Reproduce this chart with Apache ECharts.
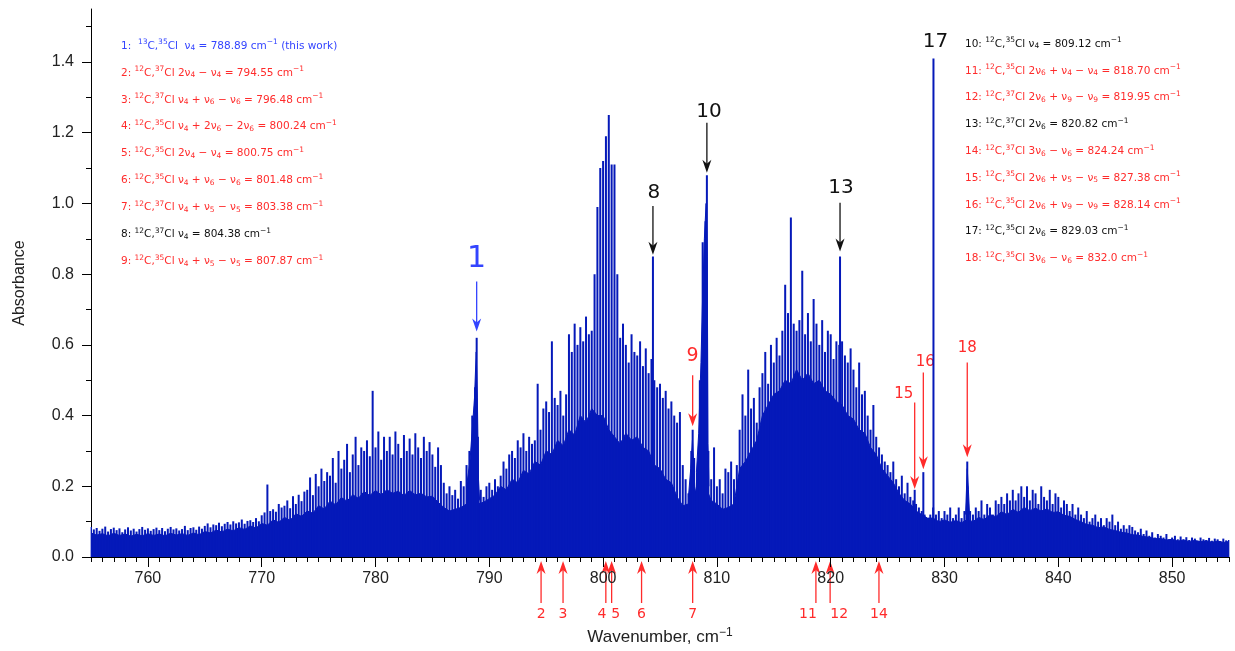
<!DOCTYPE html>
<html>
<head>
<meta charset="utf-8">
<script src="https://cdn.jsdelivr.net/npm/echarts@6/dist/echarts.min.js"></script>
<style>
html, body { margin: 0; padding: 0; background: #fff; }
#chart { width: 1235px; height: 651px; }
</style>
</head>
<body>
<div id="chart"></div>
<script>
// resolved line tops, every 0.25 cm-1 from 755 to 855
var stickStart = 755, stickStep = 0.25;
var lineTops = [
  .085,.078,.082,.074, .080,.086,.072,.079, .083,.076,.081,.070, .078,.084,.075,.080, .072,.079,.085,.077, // 755-759
  .081,.074,.079,.083, .076,.082,.073,.080, .085,.078,.081,.075, .079,.088,.076,.082, .084,.077,.086,.080, // 760-764
  .088,.095,.084,.092, .090,.097,.087,.094, .099,.092,.101,.095, .098,.106,.094,.102, .104,.099,.110,.101, // 765-769
  .118,.126,.205,.130, .135,.128,.150,.140, .145,.160,.138,.172, .150,.176,.158,.185, .190,.225,.175,.235, // 770-774
  .200,.250,.215,.240, .230,.280,.210,.300, .250,.275,.320,.240, .290,.340,.260,.310, .300,.330,.285,.470, // 775-779
  .310,.355,.275,.340, .300,.340,.290,.355, .320,.280,.345,.300, .335,.290,.350,.310, .280,.340,.300,.325, // 780-784
  .290,.255,.310,.260, .210,.180,.200,.175, .190,.165,.215,.200, .260,.300,.400,.480, .340,.190,.170,.200, // 785-789
  .210,.190,.220,.200, .230,.270,.250,.290, .300,.280,.330,.310, .350,.300,.340,.320, .330,.490,.360,.420, // 790-794
  .440,.410,.610,.450, .430,.470,.400,.460, .630,.580,.660,.600, .650,.610,.680,.630, .640,.800,.990,1.100, // 795-799
  1.120,1.190,1.250,1.110, 1.110,.800,.620,.660, .600,.550,.630,.580, .570,.610,.540,.590, .520,.560,.500,.480, // 800-804
  .490,.450,.470,.420, .440,.400,.380,.410, .260,.220,.180,.300, .280,.240,.500,.890, .950,.300,.220,.310, // 805-809
  .200,.220,.180,.250, .240,.270,.220,.260, .360,.460,.400,.530, .420,.450,.380,.480, .520,.580,.490,.600, // 810-814
  .550,.620,.570,.640, .770,.690,.960,.660, .640,.670,.810,.630, .690,.610,.730,.660, .600,.670,.580,.640, // 815-819
  .630,.560,.610,.600, .610,.570,.550,.590, .530,.480,.550,.460, .470,.400,.360,.430, .340,.310,.290,.270, // 820-824
  .260,.240,.270,.220, .200,.230,.180,.210, .170,.160,.150,.140, .130,.120,.110,.120, .140,.120,.130,.110, // 825-829
  .130,.120,.140,.110, .120,.140,.110,.130, .200,.130,.120,.140, .130,.160,.120,.150, .140,.120,.160,.150, // 830-834
  .170,.150,.180,.160, .190,.160,.180,.200, .170,.200,.160,.190, .180,.150,.200,.170, .160,.190,.150,.180, // 835-839
  .170,.140,.160,.150, .130,.150,.120,.140, .120,.110,.130,.100, .110,.120,.100,.110, .090,.110,.100,.120, // 840-844
  .090,.100,.080,.090, .080,.090,.085,.075, .070,.080,.065,.075, .060,.070,.055,.065, .060,.055,.065,.050, // 845-849
  .055,.060,.050,.058, .050,.056,.048,.055, .052,.046,.055,.050, .048,.054,.046,.052, .050,.045,.052,.047, // 850-854
  .048
];

// dense, unresolved part of the spectrum, every 0.5 cm-1 from 755 to 855
var floorStart = 755, floorStep = 0.5;
var floorLevel = [
  .068,.062,.066,.060,.067,.061,.065,.059,.064,.060,.066,.061,.065,.060,.067,.062,.066,.061,.068,.063, // 755-764.5
  .072,.068,.076,.071,.079,.074,.083,.078,.088,.082, // 765-769.5
  .095,.090,.105,.098,.112,.104,.122,.115,.130,.124, // 770-774.5
  .145,.136,.158,.148,.168,.158,.176,.166,.185,.174, // 775-779.5
  .188,.176,.190,.180,.186,.174,.188,.176,.180,.170, // 780-784.5
  .172,.155,.140,.130,.135,.140,.150,.160,.150,.155, // 785-789.5
  .165,.175,.200,.190,.220,.210,.245,.235,.270,.260, // 790-794.5
  .300,.290,.330,.315,.360,.345,.400,.380,.420,.400, // 795-799.5
  .400,.360,.340,.320,.350,.330,.340,.310,.300,.260, // 800-804.5
  .250,.220,.210,.170,.145,.150,.180,.200,.200,.160, // 805-809.5
  .150,.135,.140,.150,.250,.270,.300,.330,.400,.430, // 810-814.5
  .460,.470,.500,.490,.530,.500,.520,.490,.500,.470, // 815-819.5
  .460,.440,.430,.400,.390,.360,.350,.310,.290,.250, // 820-824.5
  .230,.210,.180,.160,.150,.130,.120,.110,.110,.100, // 825-829.5
  .105,.098,.103,.097,.106,.100,.112,.106,.120,.114, // 830-834.5
  .128,.120,.135,.126,.140,.131,.138,.130,.136,.126, // 835-839.5
  .128,.118,.115,.106,.100,.092,.090,.083,.085,.078, // 840-844.5
  .075,.070,.068,.063,.062,.058,.056,.052,.052,.048, // 845-849.5
  .050,.045,.048,.044,.047,.043,.046,.042,.045,.041, // 850-854.5
  .044
];

// filled Q-branch contours [wavenumber, absorbance]
var qBranch1 = [[788.0, .20], [788.3, .27], [788.5, .36], [788.7, .45], [788.85, .58], [788.95, .45], [789.05, .22], [789.15, .16]];
var qBranch9 = [[807.5, .17], [807.7, .25], [807.85, .33], [807.95, .27], [808.05, .20], [808.15, .18]];
var qBranch10 = [[808.2, .24], [808.4, .35], [808.6, .55], [808.75, .74], [808.9, .90], [809.05, 1.0], [809.15, .85], [809.22, .32], [809.3, .20]];
var qBranch18 = [[831.85, .12], [832.0, .25], [832.1, .19], [832.2, .12]];

// sharp Q-branch peaks
var bandCenters = [788.89, 804.38, 807.87, 809.12, 820.82, 827.38, 828.14, 829.03, 832.0];
var bandHeights = [0.62, 0.85, 0.36, 1.08, 0.85, 0.19, 0.24, 1.41, 0.27];

// axis ticks
var xLabels = [760, 770, 780, 790, 800, 810, 820, 830, 840, 850];
var yLabels = [0, 0.2, 0.4, 0.6, 0.8, 1.0, 1.2, 1.4];
var yMinorTicks = [0.1, 0.3, 0.5, 0.7, 0.9, 1.1, 1.3, 1.5];

// assignments above the spectrum
var topLabels = ['1', '8', '9', '10', '13', '17', '15', '16', '18'];
var topWavenumbers = [788.89, 804.38, 807.87, 809.12, 820.82, 829.03, 827.38, 828.14, 832.0];
// assignments below the axis
var bottomLabels = ['2', '3', '4', '5', '6', '7', '11', '12', '14'];
var bottomWavenumbers = [794.55, 796.48, 800.24, 800.75, 803.38, 807.87, 818.70, 819.95, 824.24];

var legendLeft = [
  '1:  ^{13}C,^{35}Cl  ν_{4} = 788.89 cm^{−1} (this work)',
  '2: ^{12}C,^{37}Cl 2ν_{4} − ν_{4} = 794.55 cm^{−1}',
  '3: ^{12}C,^{37}Cl ν_{4} + ν_{6} − ν_{6} = 796.48 cm^{−1}',
  '4: ^{12}C,^{35}Cl ν_{4} + 2ν_{6} − 2ν_{6} = 800.24 cm^{−1}',
  '5: ^{12}C,^{35}Cl 2ν_{4} − ν_{4} = 800.75 cm^{−1}',
  '6: ^{12}C,^{35}Cl ν_{4} + ν_{6} − ν_{6} = 801.48 cm^{−1}',
  '7: ^{12}C,^{37}Cl ν_{4} + ν_{5} − ν_{5} = 803.38 cm^{−1}',
  '8: ^{12}C,^{37}Cl ν_{4} = 804.38 cm^{−1}',
  '9: ^{12}C,^{35}Cl ν_{4} + ν_{5} − ν_{5} = 807.87 cm^{−1}'
];
var legendRight = [
  '10: ^{12}C,^{35}Cl ν_{4} = 809.12 cm^{−1}',
  '11: ^{12}C,^{35}Cl 2ν_{6} + ν_{4} − ν_{4} = 818.70 cm^{−1}',
  '12: ^{12}C,^{37}Cl 2ν_{6} + ν_{9} − ν_{9} = 819.95 cm^{−1}',
  '13: ^{12}C,^{37}Cl 2ν_{6} = 820.82 cm^{−1}',
  '14: ^{12}C,^{37}Cl 3ν_{6} − ν_{6} = 824.24 cm^{−1}',
  '15: ^{12}C,^{35}Cl 2ν_{6} + ν_{5} − ν_{5} = 827.38 cm^{−1}',
  '16: ^{12}C,^{35}Cl 2ν_{6} + ν_{9} − ν_{9} = 828.14 cm^{−1}',
  '17: ^{12}C,^{35}Cl 2ν_{6} = 829.03 cm^{−1}',
  '18: ^{12}C,^{35}Cl 3ν_{6} − ν_{6} = 832.0 cm^{−1}'
];

var BLUE = '#3344ff', RED = '#ff2b2b', BLACK = '#111111', SPEC = '#0519b9';
var leftColors = [BLUE, RED, RED, RED, RED, RED, RED, BLACK, RED];
var rightColors = [BLACK, RED, RED, BLACK, RED, RED, RED, BLACK, RED];

// layout of the top labels: text / arrow tail / arrow tip in absorbance units
var topLayout = {
  '1':  { text: 0.841, tail: 0.779, tip: 0.638, color: BLUE, size: 30, dx: 0 },
  '8':  { text: 1.030, tail: 0.993, tip: 0.855, color: BLACK, size: 20, dx: 1 },
  '9':  { text: 0.567, tail: 0.514, tip: 0.370, color: RED, size: 19, dx: 0 },
  '10': { text: 1.259, tail: 1.228, tip: 1.087, color: BLACK, size: 20, dx: 2 },
  '13': { text: 1.044, tail: 1.002, tip: 0.864, color: BLACK, size: 20, dx: 1 },
  '17': { text: 1.456, color: BLACK, size: 20, dx: 2 },
  '15': { text: 0.460, tail: 0.437, tip: 0.192, color: RED, size: 15, dx: -11 },
  '16': { text: 0.550, tail: 0.522, tip: 0.248, color: RED, size: 15, dx: 2 },
  '18': { text: 0.590, tail: 0.550, tip: 0.282, color: RED, size: 15, dx: 0 }
};
var bottomDx = { '4': -4, '5': 4, '11': -8, '12': 9 };

var stickData = [];
for (var i = 0; i < lineTops.length; i++) stickData.push([stickStart + i * stickStep, lineTops[i]]);
for (var j = 0; j < bandCenters.length; j++) stickData.push([bandCenters[j], bandHeights[j]]);
var floorData = [];
for (var k = 0; k < floorLevel.length; k++) floorData.push([floorStart + k * floorStep, floorLevel[k]]);
var qData = [].concat(qBranch1, [[null, null]], qBranch9, [[null, null]], qBranch10, [[null, null]], qBranch18);

var xMinorTicks = [];
for (var t = 755; t <= 855; t++) if (t % 10 !== 0) xMinorTicks.push(t);

var chart = echarts.init(document.getElementById('chart'));
var AXIS_FONT = 'Liberation Sans, Arial, sans-serif';

var option = {
  animation: false,
  backgroundColor: '#fff',
  grid: { left: 91, right: 6, top: 9, bottom: 93 },
  xAxis: [{
    type: 'value', min: 755, max: 855,
    name: 'Wavenumber, cm{sup|−1}', nameLocation: 'middle', nameGap: 70,
    nameTextStyle: {
      fontSize: 17, color: '#222', fontFamily: AXIS_FONT,
      rich: { sup: { fontSize: 12, color: '#222', fontFamily: AXIS_FONT, padding: [0, 0, 9, 0] } }
    },
    axisLine: { lineStyle: { color: '#000', width: 1 } },
    axisTick: { customValues: xLabels, length: 10, lineStyle: { color: '#000' } },
    axisLabel: { customValues: xLabels, fontSize: 16, color: '#222', margin: 14, fontFamily: AXIS_FONT },
    splitLine: { show: false }
  }, {
    type: 'value', min: 755, max: 855, position: 'bottom',
    axisLine: { show: false },
    axisTick: { customValues: xMinorTicks, length: 5, lineStyle: { color: '#000' } },
    axisLabel: { show: false },
    splitLine: { show: false }
  }],
  yAxis: [{
    type: 'value', min: 0, max: 1.55,
    name: 'Absorbance', nameLocation: 'middle', nameGap: 63,
    nameTextStyle: { fontSize: 16, color: '#222', fontFamily: AXIS_FONT },
    axisLine: { show: true, lineStyle: { color: '#000', width: 1 } },
    axisTick: { customValues: yLabels, length: 9, lineStyle: { color: '#000' } },
    axisLabel: {
      customValues: yLabels, fontSize: 16, color: '#222', margin: 17, fontFamily: AXIS_FONT,
      formatter: function (v) { return v.toFixed(1); }
    },
    splitLine: { show: false }
  }, {
    type: 'value', min: 0, max: 1.55, position: 'left',
    axisLine: { show: false },
    axisTick: { customValues: yMinorTicks, length: 5, lineStyle: { color: '#000' } },
    axisLabel: { show: false },
    splitLine: { show: false }
  }],
  series: [{
    type: 'line',
    data: floorData,
    symbol: 'none',
    lineStyle: { color: SPEC, width: 1 },
    areaStyle: { color: SPEC, opacity: 1 },
    silent: true,
    z: 2
  }, {
    type: 'line',
    data: qData,
    symbol: 'none',
    connectNulls: false,
    lineStyle: { color: SPEC, width: 1 },
    areaStyle: { color: SPEC, opacity: 1 },
    silent: true,
    z: 2
  }, {
    type: 'bar',
    data: stickData,
    barWidth: 2,
    itemStyle: { color: SPEC },
    silent: true,
    z: 3
  }]
};
chart.setOption(option);

function px(x, y) {
  return chart.convertToPixel({ xAxisIndex: 0, yAxisIndex: 0 }, [x, y]);
}

function arrow(x, yFrom, yTo, color) {
  var dir = yTo > yFrom ? 1 : -1;
  return [{
    type: 'line', silent: true,
    shape: { x1: x, y1: yFrom, x2: x, y2: yTo - dir * 8 },
    style: { stroke: color, lineWidth: 1.3 }
  }, {
    type: 'polygon', silent: true,
    shape: { points: [[x, yTo], [x - 4.5, yTo - dir * 13], [x, yTo - dir * 9], [x + 4.5, yTo - dir * 13]] },
    style: { fill: color }
  }];
}

function toRich(s) {
  return s.replace(/\^\{([^}]*)\}/g, '{sup|$1}').replace(/_\{([^}]*)\}/g, '{sub|$1}');
}

var LEGEND_FONT = 'DejaVu Sans, sans-serif';
function legendText(s, x, y, color) {
  return {
    type: 'text', silent: true, x: x, y: y,
    style: {
      text: toRich(s), fill: color, fontSize: 10.5, fontFamily: LEGEND_FONT,
      verticalAlign: 'middle', align: 'left',
      rich: {
        sup: { fontSize: 7.5, fill: color, fontFamily: LEGEND_FONT, padding: [0, 0, 7, 0] },
        sub: { fontSize: 7.5, fill: color, fontFamily: LEGEND_FONT, padding: [5, 0, 0, 0] }
      }
    }
  };
}

var graphics = [];
topLabels.forEach(function (lab, i) {
  var L = topLayout[lab];
  var xw = topWavenumbers[i];
  var pText = px(xw, L.text);
  graphics.push({
    type: 'text', silent: true, x: pText[0] + L.dx, y: pText[1],
    style: { text: lab, fill: L.color, fontSize: L.size, fontFamily: LEGEND_FONT, align: 'center', verticalAlign: 'middle' }
  });
  if (L.tail !== undefined) {
    var p1 = px(xw, L.tail), p2 = px(xw, L.tip);
    graphics = graphics.concat(arrow(p1[0], p1[1], p2[1], L.color));
  }
});

bottomLabels.forEach(function (lab, i) {
  var base = px(bottomWavenumbers[i], 0);
  graphics = graphics.concat(arrow(base[0], base[1] + 46, base[1] + 4, RED));
  graphics.push({
    type: 'text', silent: true, x: base[0] + (bottomDx[lab] || 0), y: base[1] + 57,
    style: { text: lab, fill: RED, fontSize: 14, fontFamily: LEGEND_FONT, align: 'center', verticalAlign: 'middle' }
  });
});

legendLeft.forEach(function (s, i) {
  graphics.push(legendText(s, 121, 46 + i * 26.9, leftColors[i]));
});
legendRight.forEach(function (s, i) {
  graphics.push(legendText(s, 965, 44 + i * 26.8, rightColors[i]));
});

chart.setOption({ graphic: graphics });
</script>
</body>
</html>
